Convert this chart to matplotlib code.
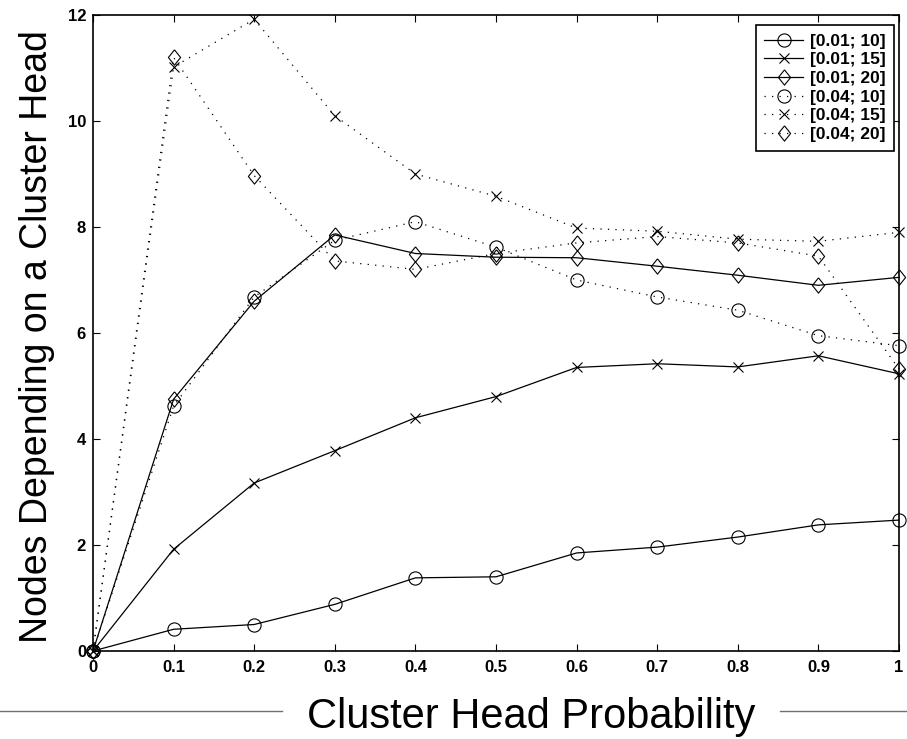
import matplotlib
matplotlib.use("Agg")
import matplotlib.pyplot as plt
from matplotlib.lines import Line2D

plt.rcParams['font.family'] = ['Liberation Sans', 'DejaVu Sans']

x = [0, 0.1, 0.2, 0.3, 0.4, 0.5, 0.6, 0.7, 0.8, 0.9, 1.0]
s_001_10 = [0, 0.41, 0.50, 0.88, 1.38, 1.40, 1.85, 1.96, 2.15, 2.38, 2.47]
s_001_15 = [0, 1.92, 3.17, 3.78, 4.40, 4.80, 5.35, 5.42, 5.36, 5.57, 5.23]
s_001_20 = [0, 4.75, 6.60, 7.85, 7.50, 7.43, 7.42, 7.26, 7.09, 6.90, 7.05]
s_004_10 = [0, 4.62, 6.68, 7.75, 8.10, 7.62, 7.00, 6.68, 6.43, 5.95, 5.76]
s_004_15 = [0, 11.02, 11.92, 10.10, 9.00, 8.58, 7.98, 7.92, 7.77, 7.73, 7.90]
s_004_20 = [0, 11.20, 8.97, 7.36, 7.20, 7.50, 7.70, 7.82, 7.70, 7.45, 5.32]
labels = ['[0.01; 10]', '[0.01; 15]', '[0.01; 20]', '[0.04; 10]', '[0.04; 15]', '[0.04; 20]']
xticks = [0, 0.1, 0.2, 0.3, 0.4, 0.5, 0.6, 0.7, 0.8, 0.9, 1]
xticklabels = ['0', '0.1', '0.2', '0.3', '0.4', '0.5', '0.6', '0.7', '0.8', '0.9', '1']
yticks = [0, 2, 4, 6, 8, 10, 12]

fig = plt.figure(figsize=(9.07, 7.39), dpi=100)
ax = fig.add_axes([93/907, 1-651/739, (899-93)/907, (651-15)/739])

diamond = [(0, 1), (0.8, 0), (0, -1), (-0.8, 0), (0, 1)]
series = [s_001_10, s_001_15, s_001_20, s_004_10, s_004_15, s_004_20]
markers = ['o', 'x', diamond, 'o', 'x', diamond]
msizes = [9.5, 7.5, 11, 9.5, 7.5, 11]
dotted = (0, (1, 5))
styles = ['-', '-', '-', dotted, dotted, dotted]
for s, m, ms, ls, lab in zip(series, markers, msizes, styles, labels):
    ax.plot(x, s, color='black', linestyle=ls, linewidth=0.9, marker=m,
            markersize=ms, markerfacecolor='none', markeredgecolor='black',
            markeredgewidth=0.8, label=lab, clip_on=False)

ax.set_xlim(0, 1)
ax.set_ylim(0, 12)
ax.set_xticks(xticks)
ax.set_xticklabels(xticklabels)
ax.set_yticks(yticks)
ax.tick_params(direction='in', length=5, width=0.8, top=True, right=True,
               labelsize=12)
ax.tick_params(axis='y', pad=5)
ax.tick_params(axis='x', pad=6.5)
for lbl in ax.get_xticklabels() + ax.get_yticklabels():
    lbl.set_fontweight('bold')
for sp in ax.spines.values():
    sp.set_linewidth(1.2)

leg = ax.legend(loc='upper right', bbox_to_anchor=(894/907, 1-25/739),
                bbox_transform=fig.transFigure, borderaxespad=0,
                fancybox=False, framealpha=1, edgecolor='black',
                prop={'weight': 'bold', 'size': 12.5}, labelspacing=0.2,
                handlelength=2.2, handletextpad=0.4, borderpad=0.5)
leg.get_frame().set_linewidth(1.2)

fig.text(531.5/907, 1-728/739, 'Cluster Head Probability', fontsize=30,
         ha='center', va='baseline')
fig.text(47/907, 1-337/739, 'Nodes Depending on a Cluster Head', fontsize=27,
         rotation=90, ha='center', va='baseline', rotation_mode='anchor')

fig.add_artist(Line2D([0, 282/907], [1-711/739, 1-711/739], color='#707070',
                      linewidth=1.0, transform=fig.transFigure))
fig.add_artist(Line2D([780/907, 1], [1-711/739, 1-711/739], color='#707070',
                      linewidth=1.0, transform=fig.transFigure))

fig.savefig('out.png', dpi=100)
